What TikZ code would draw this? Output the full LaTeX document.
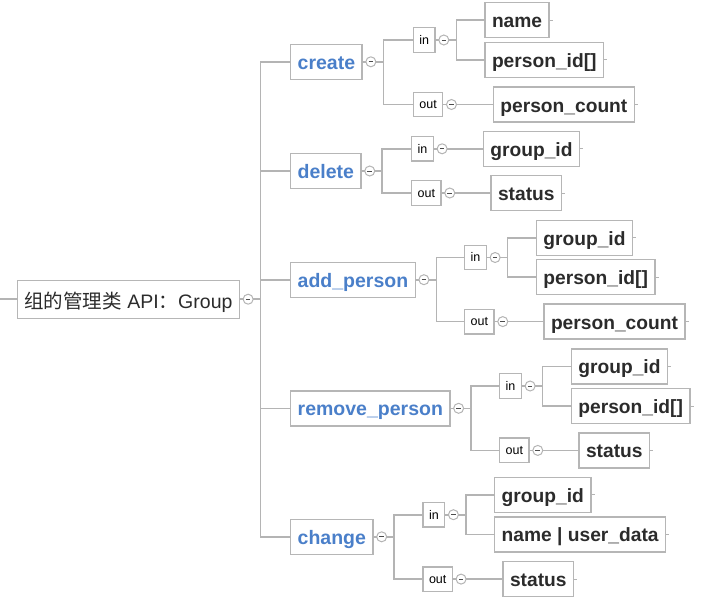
\documentclass[tikz,border=0pt]{standalone}
\usepackage{fontspec}
\setmainfont{Liberation Sans}
\newfontfamily\cjk{Noto Sans CJK SC}
\usetikzlibrary{positioning}
\definecolor{boxgray}{HTML}{B6B6B6}
\definecolor{linegray}{HTML}{B4B4B4}
\definecolor{topblue}{HTML}{4A7FC9}
\definecolor{leaftext}{HTML}{2B2B2B}
\tikzset{
  base/.style={draw=boxgray, line width=1.4pt, rectangle, inner xsep=7pt, inner ysep=0pt, anchor=west},
  rootbox/.style={base, minimum height=38pt, text height=21pt, text depth=3pt, font=\fontsize{19.5}{22}\selectfont, text=leaftext},
  topbox/.style={base, minimum height=35pt, text height=19pt, text depth=4pt, font=\fontsize{19.5}{22}\selectfont\bfseries, text=topblue},
  iobox/.style={base, minimum height=24.5pt, text height=11pt, text depth=2.4pt, inner xsep=6pt, font=\fontsize{12.5}{14}\selectfont, text=black},
  leafbox/.style={base, minimum height=35pt, text height=19pt, text depth=4pt, font=\fontsize{19.2}{22}\selectfont\bfseries, text=leaftext},
  circ/.style={circle, draw=linegray, line width=1pt, minimum size=10pt, inner sep=0pt, fill=white,
    path picture={\draw[black!70, line width=0.9pt] ([xshift=-2.3pt]path picture bounding box.center) -- ([xshift=2.3pt]path picture bounding box.center);}},
  conn/.style={draw=linegray, line width=1.6pt, line cap=rect},
}
\begin{document}
\begin{tikzpicture}[x=1pt, y=-1pt]
\useasboundingbox (0,0) rectangle (701,605);
% root
\node[rootbox] (r) at (16.7,299.2) {{\cjk 组的管理类} API{\cjk ：}Group};
\coordinate (rleft) at (0,299.2);
% level 1
\node[topbox] (t1) at (290,61.8) {create};
\node[topbox] (t2) at (290,171) {delete};
\node[topbox] (t3) at (290,279.7) {add\_person};
\node[topbox] (t4) at (290,408.3) {remove\_person};
\node[topbox] (t5) at (290,536.8) {change};
% in / out
\node[iobox] (t1i) at (412.7,40) {in};
\node[iobox] (t1o) at (412.7,104.5) {out};
\node[iobox] (t2i) at (411,148.8) {in};
\node[iobox] (t2o) at (411,193) {out};
\node[iobox] (t3i) at (464,257.5) {in};
\node[iobox] (t3o) at (464,321.6) {out};
\node[iobox] (t4i) at (499,386) {in};
\node[iobox] (t4o) at (499,450.4) {out};
\node[iobox] (t5i) at (422.3,514.7) {in};
\node[iobox] (t5o) at (422.3,579.1) {out};
% leaves
\node[leafbox] (t1a) at (484.3,20) {name};
\node[leafbox] (t1b) at (484.3,59.7) {person\_id[]};
\node[leafbox] (t1c) at (492.7,104.5) {person\_count};
\node[leafbox] (t2a) at (482.7,148.8) {group\_id};
\node[leafbox] (t2c) at (490.3,193) {status};
\node[leafbox] (t3a) at (535.7,237.7) {group\_id};
\node[leafbox] (t3b) at (535.7,277.2) {person\_id[]};
\node[leafbox] (t3c) at (543.3,321.6) {person\_count};
\node[leafbox] (t4a) at (570.7,366.3) {group\_id};
\node[leafbox] (t4b) at (570.7,406) {person\_id[]};
\node[leafbox] (t4c) at (578.3,450.4) {status};
\node[leafbox] (t5a) at (494,494.8) {group\_id};
\node[leafbox] (t5b) at (494,534.3) {name | user\_data};
\node[leafbox] (t5c) at (502.3,579.1) {status};
% collapse circles and branch points
\foreach \p in {r,t1,t2,t3,t4,t5,t1i,t1o,t2i,t2o,t3i,t3o,t4i,t4o,t5i,t5o} {
  \node[circ, right=2.5pt of \p] (\p-m) {};
  \path (\p-m.east) ++(7,0) coordinate (\p-b);
}
% connectors
\draw[conn] (rleft) -- (r.west);
\foreach \p/\f/\l/\cs in {r/t1/t5/{t1,t2,t3,t4,t5}, t1/t1i/t1o/{t1i,t1o}, t2/t2i/t2o/{t2i,t2o},
    t3/t3i/t3o/{t3i,t3o}, t4/t4i/t4o/{t4i,t4o}, t5/t5i/t5o/{t5i,t5o},
    t1i/t1a/t1b/{t1a,t1b}, t3i/t3a/t3b/{t3a,t3b}, t4i/t4a/t4b/{t4a,t4b}, t5i/t5a/t5b/{t5a,t5b}} {
  \draw[conn] (\p.east) -- (\p-m.west);
  \draw[conn] (\p-m.east) -- (\p-b);
  \draw[conn] (\p-b |- \f.west) -- (\p-b |- \l.west);
  \foreach \c in \cs {
    \draw[conn] (\p-b |- \c.west) -- (\c.west);
  }
}
\foreach \p/\c in {t1o/t1c, t2i/t2a, t2o/t2c, t3o/t3c, t4o/t4c, t5o/t5c} {
  \draw[conn] (\p.east) -- (\p-m.west);
  \draw[conn] (\p-m.east) -- (\c.west);
}
\foreach \n in {t1a,t1b,t1c,t2a,t2c,t3a,t3b,t3c,t4a,t4b,t4c,t5a,t5b,t5c}
  \draw[conn, line width=0.8pt, line cap=butt] (\n.east) -- ++(3,0);
\end{tikzpicture}
\end{document}
